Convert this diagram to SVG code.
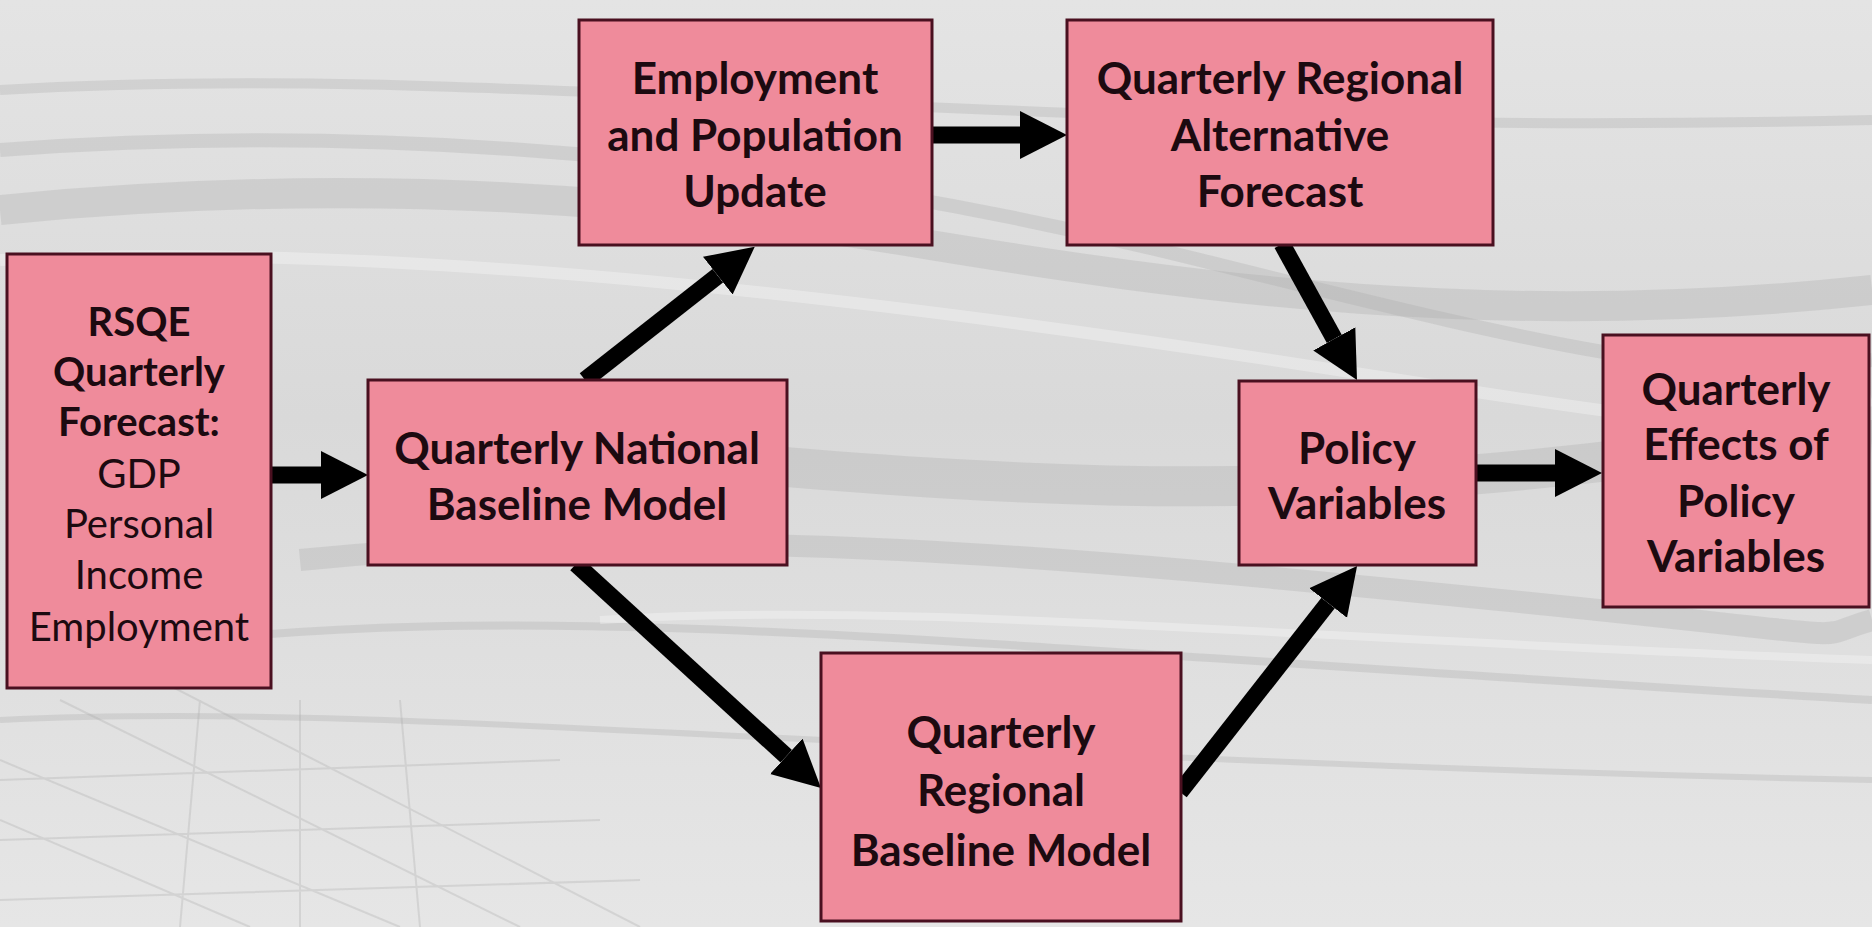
<svg xmlns="http://www.w3.org/2000/svg" width="1872" height="927" viewBox="0 0 1872 927">
<defs>
<linearGradient id="bg" x1="0" y1="0" x2="0" y2="1">
<stop offset="0" stop-color="#e4e4e4"/>
<stop offset="0.45" stop-color="#d9d9d9"/>
<stop offset="1" stop-color="#e6e6e6"/>
</linearGradient>
<marker id="ah" markerUnits="userSpaceOnUse" markerWidth="48" markerHeight="50" refX="0" refY="24" orient="auto" viewBox="0 0 48 48">
<path d="M0,0 L47,24 L0,48 z" fill="#000"/>
</marker>
<style>
.box{fill:#ef8b9b;stroke:#4a1020;stroke-width:3}
.t{font-family:Lato,"Liberation Sans",sans-serif;font-size:44px;font-weight:bold;fill:#1c0a10;text-anchor:middle}
.r{font-family:Lato,"Liberation Sans",sans-serif;font-size:40px;font-weight:normal;fill:#1c0a10;text-anchor:middle}
.rb{font-weight:bold}
.sw{fill:none;stroke:#a8a8a8;stroke-opacity:0.3}
.sl{fill:none;stroke:#ffffff;stroke-opacity:0.3}
.cn{stroke:#000;stroke-width:17;fill:none;marker-end:url(#ah)}
</style>
</defs>
<rect width="1872" height="927" fill="url(#bg)"/>
<g id="background">
<path class="sw" stroke-width="30" d="M0,210 C300,180 600,190 900,240 S1500,330 1872,290"/>
<path class="sw" stroke-width="14" d="M0,150 C400,120 800,160 1200,260 S1700,380 1872,360"/>
<path class="sw" stroke-width="40" d="M500,440 C800,470 1100,500 1400,480 S1750,430 1872,440"/>
<path class="sw" stroke-width="22" d="M300,560 C700,520 1100,560 1500,600 S1800,640 1872,620"/>
<path class="sw" stroke-width="10" d="M0,90 C500,60 1000,140 1872,120"/>
<path class="sw" stroke-width="8" d="M200,640 C600,600 1000,650 1872,700"/>
<path class="sw" stroke-width="6" d="M0,720 C400,700 900,760 1872,780"/>
<path class="sl" stroke-width="12" d="M0,260 C400,240 900,300 1400,380 S1800,420 1872,400"/>
<path class="sl" stroke-width="8" d="M600,620 C900,600 1300,640 1872,660"/>
<path class="sw" stroke-width="2" d="M0,760 L400,927 M60,700 L520,927 M0,820 L250,927 M120,660 L640,927 M300,700 L300,927 M200,700 L180,927 M400,700 L420,927 M0,780 L560,760 M0,840 L600,820 M0,900 L640,880"/>
</g>
<g id="connectors">
<path class="cn" d="M269,475 L321,475"/>
<path class="cn" d="M930,135 L1020,135"/>
<path class="cn" d="M1474,473 L1555,473"/>
<path class="cn" d="M585,380 L717.8,275.7"/>
<path class="cn" d="M576,564 L786.3,756.3"/>
<path class="cn" d="M1282,244 L1334.3,338.9"/>
<path class="cn" d="M1180,792 L1328.1,603"/>
</g>
<g id="rsqe">
<rect class="box" x="7" y="254" width="264" height="434"/>
<text class="r rb" x="139" y="336">RSQE</text>
<text class="r rb" x="139" y="386">Quarterly</text>
<text class="r rb" x="139" y="436">Forecast:</text>
<text class="r" x="139" y="488">GDP</text>
<text class="r" x="139" y="538">Personal</text>
<text class="r" x="139" y="589">Income</text>
<text class="r" x="139" y="641">Employment</text>
</g>
<g id="national">
<rect class="box" x="368" y="380" width="419" height="185"/>
<text class="t" x="577" y="464">Quarterly National</text>
<text class="t" x="577" y="520">Baseline Model</text>
</g>
<g id="employment">
<rect class="box" x="579" y="20" width="353" height="225"/>
<text class="t" x="755" y="94">Employment</text>
<text class="t" x="755" y="151">and Population</text>
<text class="t" x="755" y="207">Update</text>
</g>
<g id="alternative">
<rect class="box" x="1067" y="20" width="426" height="225"/>
<text class="t" x="1280" y="94">Quarterly Regional</text>
<text class="t" x="1280" y="151">Alternative</text>
<text class="t" x="1280" y="207">Forecast</text>
</g>
<g id="policy">
<rect class="box" x="1239" y="381" width="237" height="184"/>
<text class="t" x="1357" y="464">Policy</text>
<text class="t" x="1357" y="519">Variables</text>
</g>
<g id="effects">
<rect class="box" x="1603" y="335" width="266" height="272"/>
<text class="t" x="1736" y="405">Quarterly</text>
<text class="t" x="1736" y="460">Effects of</text>
<text class="t" x="1736" y="517">Policy</text>
<text class="t" x="1736" y="572">Variables</text>
</g>
<g id="regional">
<rect class="box" x="821" y="653" width="360" height="268"/>
<text class="t" x="1001" y="748">Quarterly</text>
<text class="t" x="1001" y="806">Regional</text>
<text class="t" x="1001" y="866">Baseline Model</text>
</g>
</svg>
